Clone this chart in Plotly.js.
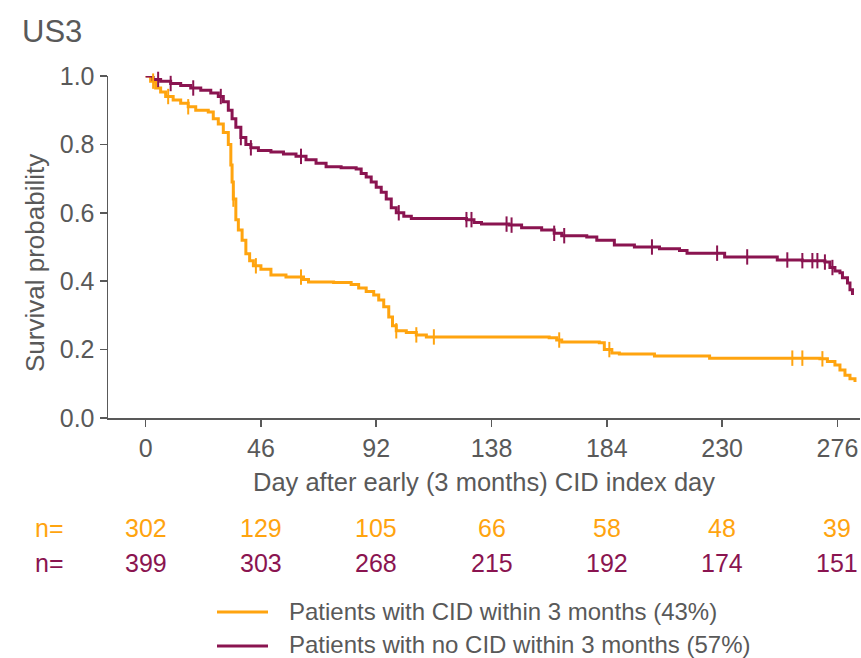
<!DOCTYPE html>
<html>
<head>
<meta charset="utf-8">
<script src="https://cdn.plot.ly/plotly-3.0.1.min.js"></script>
<style>html,body{margin:0;padding:0;background:#fff;}#chart{width:861px;height:658px;}</style>
</head>
<body>
<div id="chart"></div>
<script>
// ---- data ----
const seriesNames = ["Patients with CID within 3 months (43%)", "Patients with no CID within 3 months (57%)"];

const cidDays = [0,2,4,6,8,11,14,17,20,25,27,29,31,33,34,34.5,35,36,37,38.5,40,41.5,43,46,50,56,63,65,75,82,85,88,91,93,95,97,98.5,100,104,108,112,161,164,166,181,183,186,189,203,225,269,272,275,277,279,281,283];
const cidSurv = [1.0,0.985,0.965,0.953,0.94,0.93,0.92,0.91,0.90,0.895,0.875,0.86,0.835,0.80,0.74,0.69,0.64,0.58,0.55,0.52,0.48,0.46,0.445,0.435,0.418,0.412,0.405,0.398,0.396,0.39,0.38,0.37,0.36,0.345,0.325,0.295,0.27,0.255,0.25,0.243,0.237,0.235,0.228,0.222,0.22,0.20,0.19,0.187,0.181,0.175,0.173,0.165,0.155,0.14,0.125,0.115,0.105];
const cidCensor = [3,9,17,35,44,62,100,108,115,165,185,258,262,270];

const noCidDays = [0,3,6,10,14,18,22,26,29,31,33,34.5,36,38,40,42,45,50,55,60,64,68,72,78,84,86,88,90,92,94,96,98,100,103,106,128,131,134,145,150,158,163,166,176,180,187,195,205,213,216,231,252,262,271,273,275,277,278,280,281,282];
const noCidSurv = [1.0,0.99,0.985,0.978,0.972,0.965,0.958,0.95,0.94,0.925,0.90,0.875,0.85,0.82,0.80,0.79,0.782,0.778,0.772,0.765,0.755,0.745,0.735,0.732,0.728,0.715,0.705,0.69,0.675,0.66,0.64,0.615,0.60,0.59,0.583,0.58,0.572,0.567,0.564,0.556,0.55,0.54,0.533,0.529,0.52,0.506,0.50,0.495,0.49,0.482,0.471,0.462,0.46,0.456,0.44,0.43,0.425,0.41,0.395,0.375,0.36];
const noCidCensor = [5,10,19,30,38,42,62,101,128,130,144,146,163,167,202,228,240,256,262,266,268,271,274];

const xTicks = [0,46,92,138,184,230,276];
const yTicks = [0,0.2,0.4,0.6,0.8,1.0];
const riskCid = [302,129,105,66,58,48,39];
const riskNoCid = [399,303,268,215,192,174,151];

// ---- style ----
const ORANGE = "#FFA40F";
const PURPLE = "#8A1450";
const TXT = "#595959";
const FONT = "Liberation Sans, Arial, sans-serif";
const FS = 25;

function stepAt(days, surv, d) {
  let v = surv[0];
  for (let i = 0; i < days.length; i++) { if (days[i] <= d) v = surv[i]; else break; }
  return v;
}

const traces = [
  {x: cidDays, y: cidSurv, mode: "lines", line: {shape: "hv", color: ORANGE, width: 3}, name: seriesNames[0], showlegend: false, cliponaxis: false},
  {x: noCidDays, y: noCidSurv, mode: "lines", line: {shape: "hv", color: PURPLE, width: 3}, name: seriesNames[1], showlegend: false, cliponaxis: false},
  {x: cidCensor, y: cidCensor.map(d => stepAt(cidDays, cidSurv, d)), mode: "markers", marker: {symbol: "line-ns-open", size: 11, color: ORANGE, line: {color: ORANGE, width: 2}}, showlegend: false, hoverinfo: "skip", cliponaxis: false},
  {x: noCidCensor, y: noCidCensor.map(d => stepAt(noCidDays, noCidSurv, d)), mode: "markers", marker: {symbol: "line-ns-open", size: 11, color: PURPLE, line: {color: PURPLE, width: 2}}, showlegend: false, hoverinfo: "skip", cliponaxis: false}
];

const PL = 108, PT = 76, PW = 752, PH = 342;
const py = px => (PT + PH - px) / PH;   // pixel y -> paper y
const pxx = px => (px - PL) / PW;       // pixel x -> paper x

const annotations = [];
annotations.push({xref: "paper", yref: "paper", x: pxx(33), y: py(528), xanchor: "left", yanchor: "middle", text: "n=", showarrow: false, font: {family: FONT, size: FS, color: ORANGE}});
annotations.push({xref: "paper", yref: "paper", x: pxx(33), y: py(563), xanchor: "left", yanchor: "middle", text: "n=", showarrow: false, font: {family: FONT, size: FS, color: PURPLE}});
xTicks.forEach((t, i) => {
  annotations.push({xref: "x", yref: "paper", x: t, y: py(528), xanchor: "center", yanchor: "middle", text: String(riskCid[i]), showarrow: false, font: {family: FONT, size: FS, color: ORANGE}});
  annotations.push({xref: "x", yref: "paper", x: t, y: py(563), xanchor: "center", yanchor: "middle", text: String(riskNoCid[i]), showarrow: false, font: {family: FONT, size: FS, color: PURPLE}});
});
annotations.push({xref: "paper", yref: "paper", x: pxx(287), y: py(611), xanchor: "left", yanchor: "middle", text: seriesNames[0], showarrow: false, font: {family: FONT, size: 24, color: TXT}});
annotations.push({xref: "paper", yref: "paper", x: pxx(287), y: py(644), xanchor: "left", yanchor: "middle", text: seriesNames[1], showarrow: false, font: {family: FONT, size: 24, color: TXT}});
// y axis title placed like the original (centred slightly below the plot middle)
annotations.push({xref: "paper", yref: "paper", x: pxx(35), y: py(263), xanchor: "center", yanchor: "middle", textangle: -90, text: "Survival probability", showarrow: false, font: {family: FONT, size: 26, color: TXT}});

const shapes = [
  {type: "line", xref: "paper", yref: "paper", x0: pxx(217), x1: pxx(268), y0: py(612), y1: py(612), line: {color: ORANGE, width: 3}},
  {type: "line", xref: "paper", yref: "paper", x0: pxx(217), x1: pxx(268), y0: py(646), y1: py(646), line: {color: PURPLE, width: 3}}
];

const layout = {
  width: 861, height: 658,
  margin: {l: PL, r: 861 - PL - PW, t: PT, b: 658 - PT - PH, pad: 0},
  paper_bgcolor: "#fff", plot_bgcolor: "#fff",
  font: {family: FONT, color: TXT, size: FS},
  title: {text: "US3", x: 22/861, xanchor: "left", xref: "container", y: 1 - 31/658, yanchor: "middle", yref: "container", font: {family: FONT, size: 31, color: TXT}},
  xaxis: {range: [-15, 285], tickvals: xTicks, ticktext: xTicks.map(String), showline: true, linecolor: TXT, linewidth: 1.5, ticks: "outside", ticklen: 7, tickwidth: 1.5, tickcolor: TXT, showgrid: false, zeroline: false, tickfont: {size: FS, color: TXT}, title: {text: "Day after early (3 months) CID index day", font: {size: 25.5, color: TXT}, standoff: 12}, automargin: false},
  yaxis: {range: [0, 1], tickvals: yTicks, tickformat: ".1f", showline: true, linecolor: TXT, linewidth: 1.5, ticks: "outside", ticklen: 7, tickwidth: 1.5, tickcolor: TXT, showgrid: false, zeroline: false, tickfont: {size: FS, color: TXT}, automargin: false},
  annotations: annotations,
  shapes: shapes,
  showlegend: false
};

Plotly.newPlot("chart", traces, layout, {staticPlot: true, displayModeBar: false});
</script>
</body>
</html>
